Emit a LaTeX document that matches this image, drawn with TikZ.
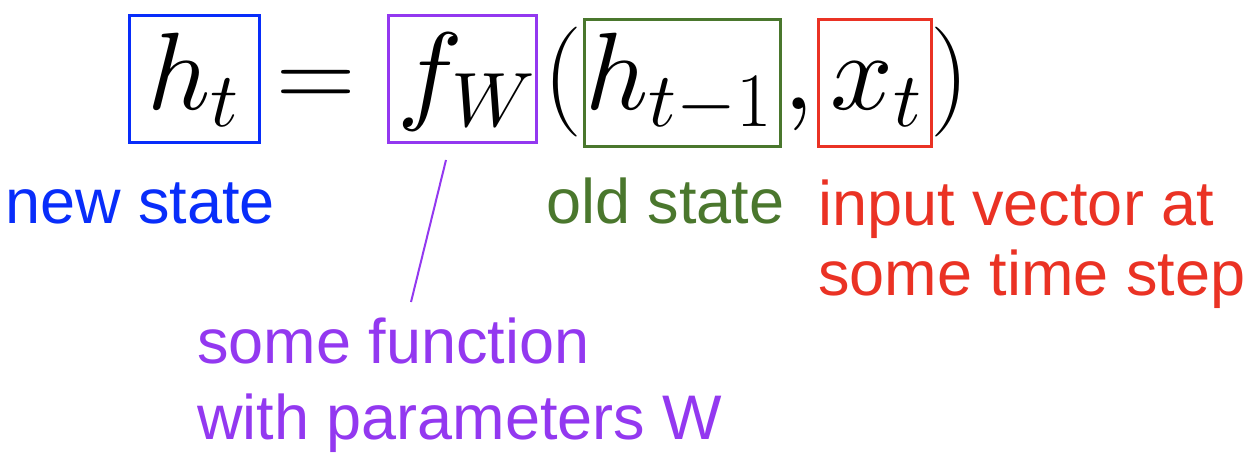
\documentclass[tikz,border=0pt]{standalone}
\usepackage{fix-cm}
\usepackage{fontspec}
\setmainfont{Liberation Sans}
\DeclareFontShape{OML}{cmm}{m}{it}{<->cmmi10}{}
\DeclareFontShape{OMS}{cmsy}{m}{n}{<->cmsy10}{}
\definecolor{cblue}{RGB}{8,45,250}
\definecolor{cpurple}{RGB}{147,56,240}
\definecolor{cgreen}{RGB}{74,119,45}
\definecolor{cred}{RGB}{234,50,36}
\tikzset{
  mathpart/.style={anchor=base west, inner sep=0pt, font=\fontsize{55}{60}\selectfont},
  hlbox/.style={draw, line width=1.5pt, inner sep=0pt, minimum height=63.5pt},
  lbl/.style={anchor=base west, inner sep=0pt, align=left},
}
\begin{document}
\begin{tikzpicture}[x=0.5pt,y=-0.5pt]
\useasboundingbox (0,0) rectangle (1256,460);
% equation parts
\node[mathpart] (ht) at (147,110) {$h_t$};
\node[mathpart] (eq) at (276,110) {$=$};
\node[mathpart] (fw) at (397,110) {$f_W$};
\node[mathpart] (lp) at (543,110) {$($};
\node[mathpart] (hp) at (585,110) {$h_{t-1}$};
\node[mathpart] (cm) at (783,110) {$,$};
\node[mathpart] (xt) at (830,110) {$x_t$};
\node[mathpart] (rp) at (930,110) {$)$};
% highlight boxes
\node[hlbox, draw=cblue, minimum width=65pt] (bh) at (194.5,79) {};
\node[hlbox, draw=cpurple, minimum width=74pt] (bf) at (462.5,79) {};
\node[hlbox, draw=cgreen, minimum width=98pt] (bo) at (682.5,83) {};
\node[hlbox, draw=cred, minimum width=56.5pt] (bx) at (875,83) {};
% labels
\node[lbl, text=cblue, font=\fontsize{31.5}{35}\selectfont] (lnew) at (5,223) {new state};
\node[lbl, text=cgreen, font=\fontsize{31.5}{35}\selectfont] (lold) at (546,223) {old state};
\node[lbl, text=cred, font=\fontsize{31.5}{35}\selectfont] (linp) at (818,295) {input vector at\\some time step};
\node[lbl, text=cpurple, font=\fontsize{31.5}{38}\selectfont] (lfun) at (197,439) {some function\\with parameters W};
% connector
\coordinate (ctop) at (446,160);
\coordinate (cbot) at (411,302);
\draw[cpurple, line width=1pt] (ctop) -- (cbot);
\end{tikzpicture}
\end{document}
